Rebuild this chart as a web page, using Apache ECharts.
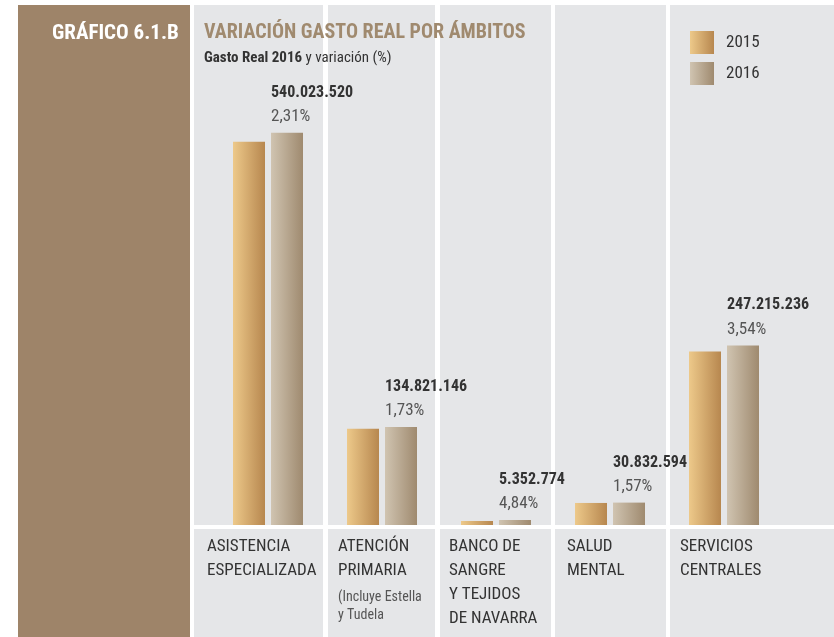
<!DOCTYPE html>
<html>
<head>
<meta charset="utf-8">
<script src="https://cdn.jsdelivr.net/npm/echarts@6/dist/echarts.min.js"></script>
<style>
  html, body { margin: 0; padding: 0; background: #fff; }
  #chart { width: 834px; height: 637px; }
</style>
</head>
<body>
<div id="chart"></div>
<script>
const categories = [
  'ASISTENCIA\nESPECIALIZADA',
  'ATENCIÓN\nPRIMARIA',
  'BANCO DE\nSANGRE\nY TEJIDOS\nDE NAVARRA',
  'SALUD\nMENTAL',
  'SERVICIOS\nCENTRALES',
]
const notes = ['', '(Incluye Estella\ny Tudela', '', '', '']
const gasto2015 = [527840000, 132530000, 5105700, 30356000, 238760000]
const gasto2016 = [540023520, 134821146, 5352774, 30832594, 247215236]
const variacion = ['2,31%', '1,73%', '4,84%', '1,57%', '3,54%']

const FONT = '"Roboto Condensed", "Liberation Sans Narrow", sans-serif'
const PANEL = '#e5e6e8'
const BROWN = '#9e8469'

// column panels (decorative background), left/right edges
const columns = [[194, 323], [328, 435], [440, 551], [555, 666], [670, 834]]
const labelX = [207, 338, 449, 567, 680]

function fmt(n) {
  return String(n).replace(/\B(?=(\d{3})+(?!\d))/g, '.')
}

function grad(a, b) {
  return new echarts.graphic.LinearGradient(0, 0, 1, 0, [
    { offset: 0, color: a },
    { offset: 1, color: b },
  ])
}

const graphics = [
  { type: 'rect', shape: { x: 18, y: 5, width: 172, height: 632 }, style: { fill: BROWN }, z: -10, silent: true },
]
columns.forEach(([l, r], i) => {
  graphics.push({ type: 'rect', shape: { x: l, y: 5, width: r - l, height: 520 }, style: { fill: PANEL }, z: -10, silent: true })
  graphics.push({ type: 'rect', shape: { x: l, y: 529, width: r - l, height: 108 }, style: { fill: PANEL }, z: -10, silent: true })
  graphics.push({
    type: 'text', x: labelX[i], y: 535, z: 5,
    style: { text: categories[i], font: '17px ' + FONT, fill: '#333', lineHeight: 24 },
  })
  if (notes[i]) {
    graphics.push({
      type: 'text', x: labelX[i], y: 588, z: 5,
      style: { text: notes[i], font: '14px ' + FONT, fill: '#555', lineHeight: 18 },
    })
  }
})

const chart = echarts.init(document.getElementById('chart'))
chart.setOption({
  animation: false,
  textStyle: { fontFamily: FONT },
  graphic: graphics,
  title: [
    {
      text: 'GRÁFICO 6.1.B',
      left: 47, top: 18,
      textStyle: { color: '#fff', fontSize: 21, fontWeight: 'bold', fontFamily: FONT },
    },
    {
      text: 'VARIACIÓN GASTO REAL POR ÁMBITOS',
      left: 199, top: 18,
      itemGap: 8,
      textStyle: { color: '#a08a6f', fontSize: 20, fontWeight: 'bold', fontFamily: FONT },
      subtext: '{b|Gasto Real 2016} y variación (%)',
      subtextStyle: {
        color: '#333', fontSize: 15, fontFamily: FONT,
        rich: { b: { fontWeight: 'bold', fontSize: 15, color: '#333', fontFamily: FONT } },
      },
    },
  ],
  legend: {
    orient: 'vertical',
    left: 685, top: 26,
    itemWidth: 24, itemHeight: 23, itemGap: 8,
    icon: 'rect',
    textStyle: { fontSize: 17, color: '#333', fontFamily: FONT, padding: [2, 0, 0, 7] },
    data: ['2015', '2016'],
  },
  grid: { left: 211, right: 834 - 781, top: 5, height: 520 },
  xAxis: {
    type: 'category',
    data: categories,
    axisLine: { show: false },
    axisTick: { show: false },
    axisLabel: { show: false },
  },
  yAxis: {
    type: 'value',
    min: 0, max: 716000000,
    show: false,
    splitLine: { show: false },
  },
  series: [
    {
      name: '2015',
      type: 'bar',
      data: gasto2015,
      barWidth: 32,
      barGap: '18.75%',
      barMinHeight: 4,
      itemStyle: { color: grad('#edc98a', '#b7874f') },
    },
    {
      name: '2016',
      type: 'bar',
      data: gasto2016,
      barWidth: 32,
      barMinHeight: 5,
      itemStyle: { color: grad('#d0c4b1', '#9f8a6f') },
      label: {
        show: true,
        position: [0, -4],
        align: 'left',
        verticalAlign: 'bottom',
        formatter: p => `{n|${fmt(p.value)}}\n{p|${variacion[p.dataIndex]}}`,
        rich: {
          n: { fontSize: 16, fontWeight: 'bold', color: '#333', lineHeight: 24, fontFamily: FONT },
          p: { fontSize: 17, color: '#555', lineHeight: 24, fontFamily: FONT },
        },
      },
    },
  ],
})
</script>
</body>
</html>
